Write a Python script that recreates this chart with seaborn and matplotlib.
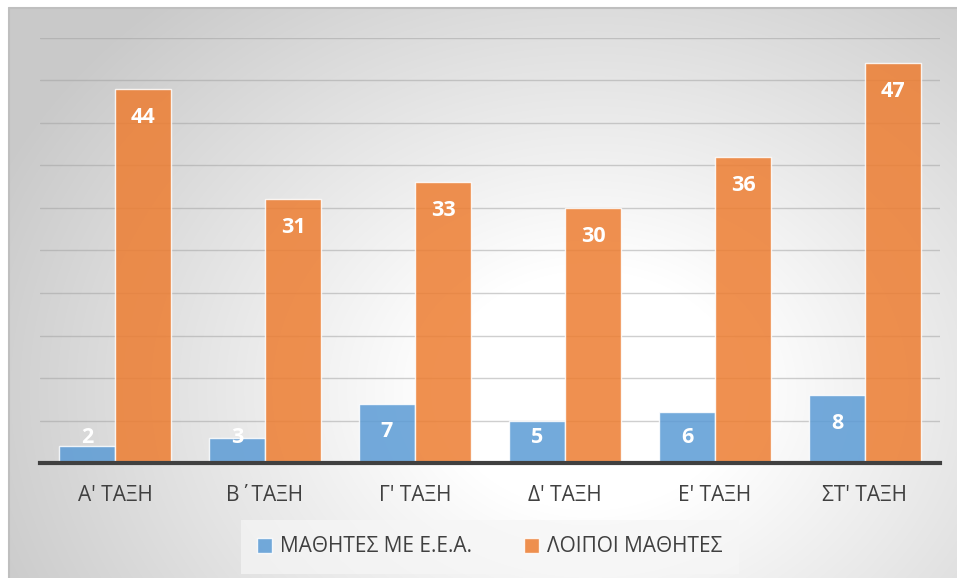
import numpy as np
import pandas as pd
import matplotlib
matplotlib.use("Agg")
import matplotlib.pyplot as plt
import seaborn as sns

categories = ["Α' ΤΑΞΗ", "Β΄ΤΑΞΗ", "Γ' ΤΑΞΗ", "Δ' ΤΑΞΗ", "Ε' ΤΑΞΗ", "ΣΤ' ΤΑΞΗ"]
series_names = ["ΜΑΘΗΤΕΣ ΜΕ Ε.Ε.Α.", "ΛΟΙΠΟΙ ΜΑΘΗΤΕΣ"]
eea_values = [2, 3, 7, 5, 6, 8]
other_values = [44, 31, 33, 30, 36, 47]
colors = ["#5B9BD5", "#ED7D31"]

df = pd.DataFrame({
    "cat": categories * 2,
    "series": [series_names[0]] * 6 + [series_names[1]] * 6,
    "val": eea_values + other_values,
})

sns.set_theme(style="white")
plt.rcParams["font.family"] = ["Open Sans", "DejaVu Sans"]

W, H = 957, 578
fig = plt.figure(figsize=(W / 100, H / 100), dpi=100)
fig.patch.set_facecolor("white")

# background gradient panel
bx0, by0 = 9, 8
bg = fig.add_axes([bx0 / W, 0, (W - bx0) / W, (H - by0) / H], zorder=0)
bw, bh = W - bx0, H - by0
yy, xx = np.mgrid[0:bh, 0:bw]
cx, cy = 590 - bx0, 390 - by0
r = np.sqrt(((xx - cx) / 1.25) ** 2 + (yy - cy) ** 2)
t = np.clip((r - 120) / 400, 0, 1)
g = 1.0 - t * (1.0 - 0.79)
img = np.dstack([g, g, g])
bg.imshow(img, aspect="auto", interpolation="bilinear")
bg.set_axis_off()
# frame lines
fig.add_artist(plt.Line2D([bx0 / W, 1], [1 - by0 / H, 1 - by0 / H], color="#bfbfbf", lw=1.5))
fig.add_artist(plt.Line2D([bx0 / W, bx0 / W], [0, 1 - by0 / H], color="#bfbfbf", lw=1.5))

# main axes
x0, x1 = 40, 940
ytop, ybase = 38, 463
ax = fig.add_axes([x0 / W, (H - ybase) / H, (x1 - x0) / W, (ybase - ytop) / H], zorder=2)
ax.patch.set_alpha(0)

sns.barplot(data=df, x="cat", y="val", hue="series", palette=colors, saturation=1,
            width=0.75, alpha=0.85, edgecolor=(1, 1, 1, 0.6), linewidth=1,
            ax=ax, legend=True, zorder=3)

ax.set_ylim(0, 50)
ax.set_xlim(-0.5, 5.5)
ax.set_yticks(np.arange(5, 51, 5))
ax.yaxis.grid(True, color="#a0a0a0", alpha=0.5, lw=1)
ax.set_axisbelow(True)
ax.tick_params(axis="y", left=False, labelleft=False)
ax.tick_params(axis="x", bottom=False, labelsize=15, labelcolor="#404040", pad=10)
ax.set_xlabel("")
ax.set_ylabel("")
for s in ["top", "left", "right"]:
    ax.spines[s].set_visible(False)
ax.spines["bottom"].set_color("#404040")
ax.spines["bottom"].set_linewidth(3)
ax.spines["bottom"].set_zorder(5)

for cont in ax.containers:
    for bar in cont:
        v = bar.get_height()
        xc = bar.get_x() + bar.get_width() / 2
        ty = max(v - 3.3, 2.95)
        ax.text(xc, ty, f"{int(round(v))}", ha="center", va="center",
                color="white", fontsize=15.5, fontweight="bold", zorder=6)

handles, labels = ax.get_legend_handles_labels()
ax.get_legend().remove()
leg = fig.legend(handles, labels, loc="center", bbox_to_anchor=(490 / W, 1 - 547 / H),
                 ncol=2, frameon=True, fontsize=15, handlelength=0.7, handleheight=0.7,
                 handletextpad=0.4, columnspacing=2.5, borderpad=0.5)
leg.get_frame().set_facecolor("#f6f6f6")
leg.get_frame().set_edgecolor("none")
leg.get_frame().set_alpha(0.7)
leg.get_frame().set_boxstyle("square")
for txt in leg.get_texts():
    txt.set_color("#404040")

fig.savefig("out.png", dpi=100)
